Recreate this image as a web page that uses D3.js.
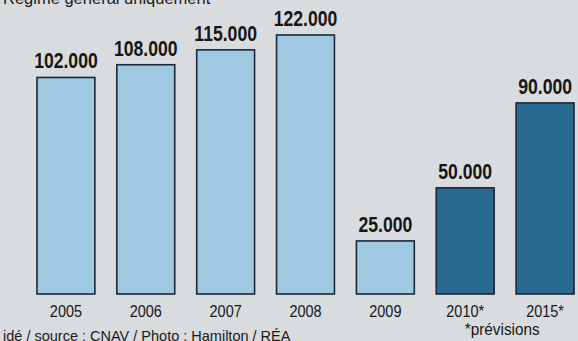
<!DOCTYPE html>
<html><head><meta charset="utf-8">
<script src="https://cdn.jsdelivr.net/npm/d3@7"></script>
<style>body{margin:0;background:#d9dcdf;}svg{display:block;}</style>
</head><body>
<svg id="c" width="578" height="341"></svg>
<script>
const categories = ["2005","2006","2007","2008","2009","2010*","2015*"];
const values = [102000,108000,115000,122000,25000,50000,90000];
const forecast = [false,false,false,false,false,true,true];
const valueLabels = ["102.000","108.000","115.000","122.000","25.000","50.000","90.000"];
const title = "Régime général uniquement";
const footer = "idé / source : CNAV / Photo : Hamilton / RÉA";
const note = "*prévisions";

const svg = d3.select("#c");
const W = 578, H = 341;
svg.append("rect").attr("width",W).attr("height",H).attr("fill","#d9dcdf");

const x = d3.scaleBand().domain(categories).range([26,585]).paddingInner(0.275).paddingOuter(0.1375);
const y = d3.scaleLinear().domain([0,122000]).range([294,35]);

const sans = "'Liberation Sans','Arial',sans-serif";

svg.append("text").attr("x",3).attr("y",4).attr("font-family",sans)
  .attr("font-size",16.5).attr("fill","#1a1a1a").text(title);

svg.selectAll("rect.bar").data(categories).join("rect").attr("class","bar")
  .attr("x",d=>x(d)).attr("width",x.bandwidth())
  .attr("y",(d,i)=>y(values[i])).attr("height",(d,i)=>y(0)-y(values[i]))
  .attr("fill",(d,i)=>forecast[i]?"#2b6a90":"#9fc8e1")
  .attr("stroke","#1b2838").attr("stroke-width",1.6);

svg.selectAll("g.val").data(categories).join("g").attr("class","val")
  .attr("transform",(d,i)=>`translate(${x(d)+x.bandwidth()/2},${y(values[i])-9}) scale(0.8,1)`)
  .append("text").attr("text-anchor","middle").attr("font-family",sans).attr("font-weight","bold")
  .attr("font-size",22).attr("fill","#161616").text((d,i)=>valueLabels[i]);

const xAxis = d3.axisBottom(x).tickSize(0).tickPadding(0);
const gx = svg.append("g").attr("transform","translate(0,317)").call(xAxis);
gx.select(".domain").remove();
gx.selectAll("text").attr("font-family",sans).attr("font-size",17).attr("fill","#161616")
  .attr("dy",0).attr("y",0).attr("transform","scale(0.85,1)");

svg.append("g").attr("transform",`translate(${x("2010*")+x.bandwidth()/2+37},335) scale(0.9,1)`)
  .append("text").attr("text-anchor","middle")
  .attr("font-family",sans).attr("font-size",17).attr("fill","#161616").text(note);

svg.append("text").attr("x",3).attr("y",341).attr("font-family",sans)
  .attr("font-size",14.5).attr("fill","#1a1a1a").text(footer);
</script>
</body></html>
